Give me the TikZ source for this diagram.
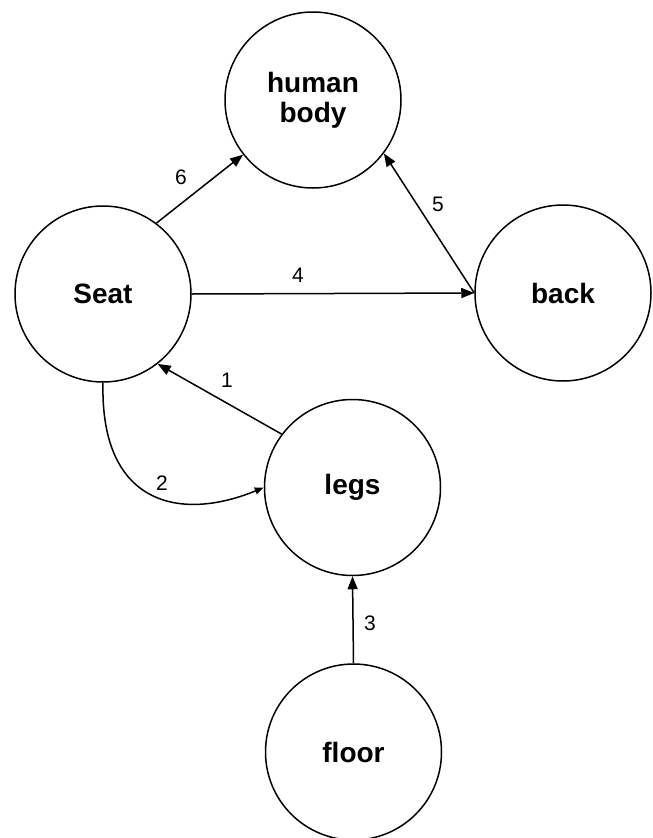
\documentclass[tikz,border=0pt]{standalone}
\usepackage{fontspec}
\setmainfont{Liberation Sans}
\usetikzlibrary{arrows.meta}
\begin{document}
\begin{tikzpicture}[x=1pt,y=-1pt,
  ent/.style={draw, circle, minimum size=176pt, inner sep=0pt, line width=1.5pt,
    font=\bfseries\fontsize{28}{30}\selectfont, align=center},
  conn/.style={line width=1.5pt, -{Triangle[length=13pt,width=10pt]}},
  lbl/.style={font=\fontsize{21}{24}\selectfont, inner sep=0pt}]
\useasboundingbox (0,0) rectangle (653,838);
\node[ent] (hb) at (313,100) {human\\body};
\node[ent] (seat) at (103,294) {Seat};
\node[ent] (back) at (563,293) {back};
\node[ent] (legs) at (352.5,487.5) {legs};
\node[ent] (floor) at (353.5,752) {floor};
\draw[conn] (seat.53) -- (hb.218);
\draw[conn] (seat.east) -- (back.west);
\draw[conn] (back.west) -- (hb.323);
\draw[conn] (legs.143) -- (seat.308);
\draw[line width=1.5pt, -{Triangle[length=9pt,width=7pt]}] (seat.south) .. controls (100,505) and (180,522) .. (legs.west);
\draw[conn] (floor.north) -- (legs.south);
\node[lbl] (l6) at (181,177) {6};
\node[lbl] (l4) at (298,275) {4};
\node[lbl] (l5) at (438,204) {5};
\node[lbl] (l1) at (227,380) {1};
\node[lbl] (l2) at (162,483) {2};
\node[lbl] (l3) at (370,623) {3};
\end{tikzpicture}
\end{document}
